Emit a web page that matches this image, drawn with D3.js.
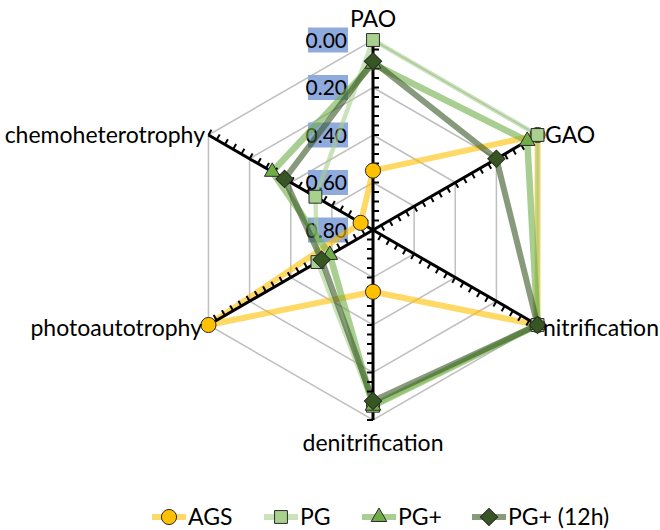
<!DOCTYPE html>
<html>
<head>
<meta charset="utf-8">
<script src="https://cdn.jsdelivr.net/npm/d3@7"></script>
<style>
  body { margin: 0; background: #fff; }
  svg { display: block; }
  text { font-family: Lato, "Liberation Sans", sans-serif; fill: #000; }
</style>
</head>
<body>
<svg id="chart" width="660" height="530"></svg>
<script>
// Radar categories, clockwise from the top
const categories = ["PAO", "GAO", "nitrification", "denitrification", "photoautotrophy", "chemoheterotrophy"];
const seriesNames = ["AGS", "PG", "PG+", "PG+ (12h)"];
const agsValues = [0.55, 0.00, 0.00, 0.54, 0.00, 0.74];
const pgValues = [0.00, 0.00, 0.00, 0.06, 0.53, 0.52];
const pgPlusValues = [0.10, 0.05, 0.00, 0.06, 0.59, 0.31];
const pgPlus12hValues = [0.09, 0.20, 0.00, 0.08, 0.55, 0.37];
const radialTickLabels = ["0.00", "0.20", "0.40", "0.60", "0.80"];
const radialTicks = [0.00, 0.20, 0.40, 0.60, 0.80];
const minorTickStep = 0.04;

const seriesValues = [agsValues, pgValues, pgPlusValues, pgPlus12hValues];
const seriesStyle = [
  { line: "#ffc000", width: 6,   fill: "#ffc000", symbol: "circle" },
  { line: "#a9d18e", width: 4.5, fill: "#a9d18e", symbol: "square" },
  { line: "#70ad47", width: 6.5, fill: "#70ad47", symbol: "triangle" },
  { line: "#375623", width: 6,   fill: "#375623", symbol: "diamond" }
];

const svg = d3.select("#chart");
const cx = 373, cy = 230, R = 190;
const g = svg.append("g").attr("transform", `translate(${cx},${cy})`);

// Value axis is reversed: 0 on the outer ring, 0.8 at the centre
const r = d3.scaleLinear().domain([0, 0.8]).range([R, 0]);
const angle = d3.scaleLinear().domain([0, categories.length]).range([0, 2 * Math.PI]);
const px = (a, rad) => Math.sin(a) * rad;
const py = (a, rad) => -Math.cos(a) * rad;

// Hexagonal gridlines
const ringLine = d3.lineRadial().angle((d, i) => angle(i)).radius(d => r(d)).curve(d3.curveLinearClosed);
radialTicks.filter(t => r(t) > 1).forEach(t => {
  g.append("path")
    .attr("d", ringLine(categories.map(() => t)))
    .attr("fill", "none")
    .attr("stroke", "#bfbfbf")
    .attr("stroke-width", 1.5);
});

// Value labels with highlighted background
const lab = g.append("g");
radialTicks.forEach((t, i) => {
  const y = -r(t);
  lab.append("rect")
    .attr("x", -65).attr("y", y - 12.5)
    .attr("width", 40).attr("height", 25)
    .attr("fill", "#8faadc");
  lab.append("text")
    .attr("x", -26).attr("y", y)
    .attr("dy", "0.36em")
    .attr("text-anchor", "end")
    .attr("font-size", 21)
    .text(radialTickLabels[i]);
});

// Series polygons
const seriesLine = d3.lineRadial().angle((d, i) => angle(i)).radius(d => r(d)).curve(d3.curveLinearClosed);
seriesValues.forEach((vals, s) => {
  g.append("path")
    .attr("d", seriesLine(vals))
    .attr("fill", "none")
    .attr("stroke", seriesStyle[s].line)
    .attr("stroke-opacity", 0.6)
    .attr("stroke-width", seriesStyle[s].width)
    .attr("stroke-linejoin", "round");
});

// Black spokes with minor ticks on the clockwise side
const minorTicks = d3.range(0, 0.8 + 1e-9, minorTickStep);
categories.forEach((c, i) => {
  const a = angle(i);
  g.append("line")
    .attr("x1", 0).attr("y1", 0)
    .attr("x2", px(a, r(0))).attr("y2", py(a, r(0)))
    .attr("stroke", "#000").attr("stroke-width", 3);
  const nx = Math.cos(a), ny = Math.sin(a);
  minorTicks.forEach(t => {
    const rad = r(t);
    if (rad < 2) return;
    const x0 = px(a, rad), y0 = py(a, rad);
    g.append("line")
      .attr("x1", x0).attr("y1", y0)
      .attr("x2", x0 + nx * 6).attr("y2", y0 + ny * 6)
      .attr("stroke", "#000").attr("stroke-width", 2);
  });
});

// Markers
const symbolGen = {
  circle: d3.symbol().type(d3.symbolCircle).size(180),
  square: d3.symbol().type(d3.symbolSquare).size(165),
  triangle: d3.symbol().type(d3.symbolTriangle).size(105),
  diamond: d3.symbol().type(d3.symbolSquare).size(150)
};
function drawMarker(sel, kind, x, y, fill) {
  sel.append("path")
    .attr("d", symbolGen[kind]())
    .attr("transform", `translate(${x},${y})` + (kind === "diamond" ? " rotate(45)" : ""))
    .attr("fill", fill)
    .attr("stroke", "#2b2b2b")
    .attr("stroke-width", 1);
}
seriesValues.forEach((vals, s) => {
  vals.forEach((v, i) => {
    const a = angle(i);
    drawMarker(g, seriesStyle[s].symbol, px(a, r(v)), py(a, r(v)), seriesStyle[s].fill);
  });
});

// Category labels
const catFont = 23;
const catPos = [
  { x: 0, y: -203, anchor: "middle" },
  { x: 172, y: -95 + 8, anchor: "start" },
  { x: 170, y: 98 + 8, anchor: "start" },
  { x: 0, y: 221, anchor: "middle" },
  { x: -171, y: 98 + 8, anchor: "end" },
  { x: -168, y: -95 + 8, anchor: "end" }
];
categories.forEach((c, i) => {
  g.append("text")
    .attr("x", catPos[i].x).attr("y", catPos[i].y)
    .attr("text-anchor", catPos[i].anchor)
    .attr("font-size", catFont)
    .text(c);
});

// Legend
const legendX = [152, 264, 362, 472];
const legendY = 517;
const leg = svg.append("g");
seriesNames.forEach((name, s) => {
  const x0 = legendX[s];
  leg.append("line")
    .attr("x1", x0).attr("x2", x0 + 34)
    .attr("y1", legendY).attr("y2", legendY)
    .attr("stroke", seriesStyle[s].line)
    .attr("stroke-opacity", 0.6)
    .attr("stroke-width", 6);
  drawMarker(leg, seriesStyle[s].symbol, x0 + 17, legendY, seriesStyle[s].fill);
  leg.append("text")
    .attr("x", x0 + 36).attr("y", legendY)
    .attr("dy", "0.36em")
    .attr("font-size", catFont)
    .text(name);
});
</script>
</body>
</html>
